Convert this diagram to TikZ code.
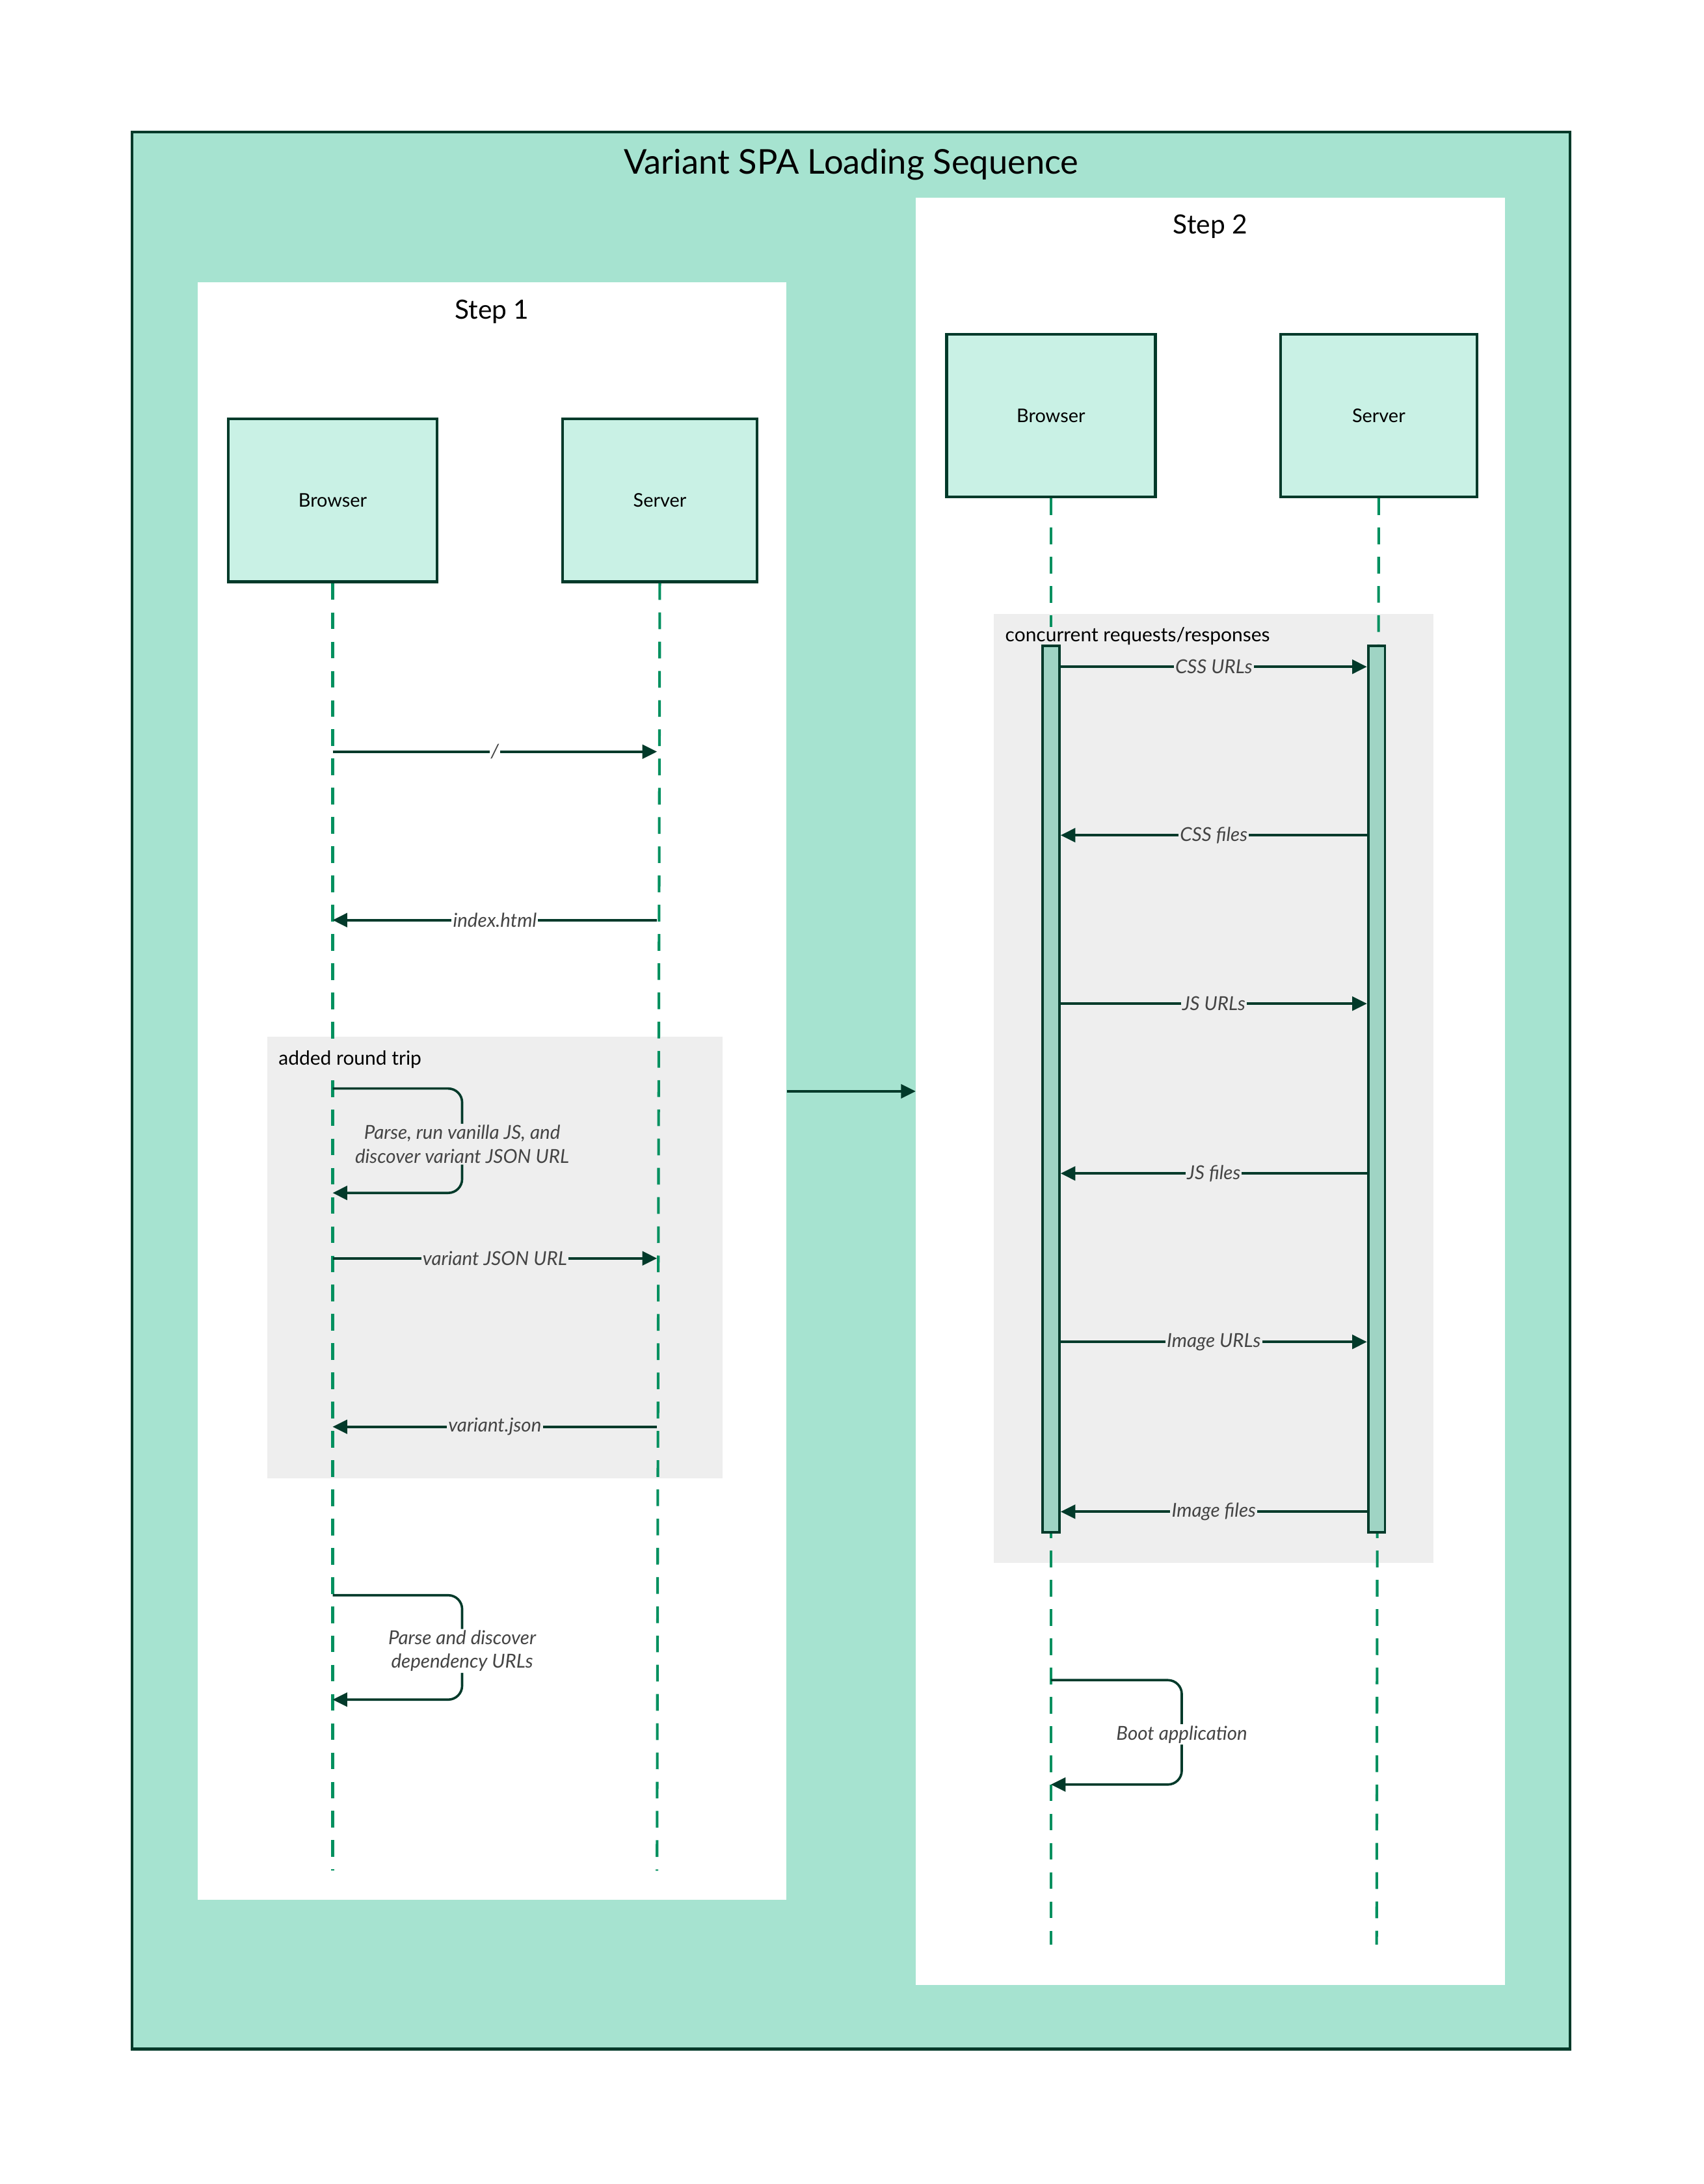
\documentclass[tikz,border=0pt]{standalone}
\usepackage{fontspec}
\setmainfont{Lato}
\usetikzlibrary{positioning,arrows.meta}
\definecolor{FrameGreen}{HTML}{A6E3D0}
\definecolor{ActorGreen}{HTML}{C9F1E5}
\definecolor{BarGreen}{HTML}{9FD4C4}
\definecolor{DarkGreen}{HTML}{023A2A}
\definecolor{LifeGreen}{HTML}{00905F}
\definecolor{GroupGray}{HTML}{EEEEEE}
\definecolor{LabelGray}{HTML}{444444}
\tikzset{Frame/.style={%
    shape=rectangle,%
    draw=DarkGreen,%
    fill=FrameGreen,%
    line width=2pt,%
    minimum width=1033pt,%
    minimum height=1377pt,%
    inner sep=0pt,%
}}
\tikzset{StepBox/.style={%
    shape=rectangle,%
    fill=white,%
    minimum width=423pt,%
    inner sep=0pt,%
}}
\tikzset{Actor/.style={%
    shape=rectangle,%
    draw=DarkGreen,%
    fill=ActorGreen,%
    line width=2pt,%
    minimum height=117pt,%
    inner sep=0pt,%
    font=\fontsize{13.5}{16}\selectfont,%
}}
\tikzset{ActBar/.style={%
    shape=rectangle,%
    draw=DarkGreen,%
    fill=BarGreen,%
    line width=1.8pt,%
    minimum width=12pt,%
    inner sep=0pt,%
}}
\tikzset{Lifeline/.style={%
    draw=LifeGreen,%
    line width=1.9pt,%
    dash pattern=on 12pt off 9pt,%
}}
\tikzset{Msg/.style={%
    -{Triangle[length=10.5pt,width=10pt]},%
    draw=DarkGreen,%
    line width=1.7pt,%
}}
\tikzset{MsgLabel/.style={%
    fill=#1,%
    text=LabelGray,%
    inner sep=1pt,%
    font=\fontsize{13.8}{17}\itshape,%
    align=center,%
}}
\tikzset{GroupLabel/.style={%
    anchor=west,%
    fill=GroupGray,%
    inner sep=0pt,%
    font=\fontsize{14}{17}\selectfont,%
}}
\begin{document}
\begin{tikzpicture}[x=1pt,y=-1pt]
    \useasboundingbox (0,0) rectangle (1224,1569);
    \node[Frame] (frame) at (611.5,783.5) {};
    \node[font=\fontsize{24.5}{29}\selectfont] (title) at ([yshift=-24pt]frame.north) {Variant SPA Loading Sequence};
    \node[StepBox, minimum height=1162pt] (st1) at (353.5,784) {};
    \node[StepBox, minimum height=1284pt] (st2) at (869.5,784) {};
    \node[font=\fontsize{19}{23}\selectfont] (st1title) at ([yshift=-21pt]st1.north) {Step 1};
    \node[font=\fontsize{19}{23}\selectfont] (st2title) at ([yshift=-21pt]st2.north) {Step 2};
    \draw[Msg] (st1.east) -- (st2.west);

    % step 1
    \fill[GroupGray] (192,745) rectangle (519,1062);
    \node[Actor, minimum width=150pt] (br1) at (239,359.5) {Browser};
    \node[Actor, minimum width=140pt, right=88pt of br1] (sv1) {Server};
    \coordinate (br1end) at (239,1344);
    \coordinate (sv1end) at (472,1344);
    \draw[Lifeline] (br1.south) -- (br1end);
    \draw[Lifeline] (sv1.south) -- (sv1end);
    \node[GroupLabel] (grp1) at (200,761) {added round trip};
    \foreach \m/\y in {a/540,b/661,c/782,d/857,e/904,f/1025,g/1146,h/1221}{
        \coordinate (br1\m) at (239,\y);
        \coordinate (sv1\m) at (472,\y);
    }
    \path (br1a) edge[Msg] node[MsgLabel=white]{/} (sv1a);
    \path (sv1b) edge[Msg] node[MsgLabel=white]{index.html} (br1b);
    \draw[Msg, rounded corners=10pt] (br1c) -| (332,822) node[MsgLabel=GroupGray]{Parse, run vanilla JS, and\\discover variant JSON URL} |- (br1d);
    \path (br1e) edge[Msg] node[MsgLabel=GroupGray]{variant JSON URL} (sv1e);
    \path (sv1f) edge[Msg] node[MsgLabel=GroupGray]{variant.json} (br1f);
    \draw[Msg, rounded corners=10pt] (br1g) -| (332,1186) node[MsgLabel=white]{Parse and discover\\dependency URLs} |- (br1h);

    % step 2
    \fill[GroupGray] (714,441) rectangle (1030,1123);
    \node[Actor, minimum width=150pt] (br2) at (755,298.5) {Browser};
    \node[Actor, minimum width=141pt, right=88pt of br2] (sv2) {Server};
    \coordinate (br2end) at (755,1397);
    \coordinate (sv2end) at (989,1397);
    \draw[Lifeline] (br2.south) -- (br2end);
    \draw[Lifeline] (sv2.south) -- (sv2end);
    \node[GroupLabel] (grp2) at (722,457) {concurrent requests/responses};
    \node[ActBar, minimum height=637pt] (bar1) at (755,782.5) {};
    \node[ActBar, minimum height=637pt] (bar2) at (989,782.5) {};
    \foreach \m/\y in {a/479,b/600,c/721,d/843,e/964,f/1086}{
        \coordinate (br2\m) at (762,\y);
        \coordinate (sv2\m) at (982,\y);
    }
    \path (br2a) edge[Msg] node[MsgLabel=GroupGray]{CSS URLs} (sv2a);
    \path (sv2b) edge[Msg] node[MsgLabel=GroupGray]{CSS files} (br2b);
    \path (br2c) edge[Msg] node[MsgLabel=GroupGray]{JS URLs} (sv2c);
    \path (sv2d) edge[Msg] node[MsgLabel=GroupGray]{JS files} (br2d);
    \path (br2e) edge[Msg] node[MsgLabel=GroupGray]{Image URLs} (sv2e);
    \path (sv2f) edge[Msg] node[MsgLabel=GroupGray]{Image files} (br2f);
    \coordinate (br2g) at (755,1207);
    \coordinate (br2h) at (755,1282);
    \draw[Msg, rounded corners=10pt] (br2g) -| (849,1246) node[MsgLabel=white]{Boot application} |- (br2h);
\end{tikzpicture}
\end{document}
